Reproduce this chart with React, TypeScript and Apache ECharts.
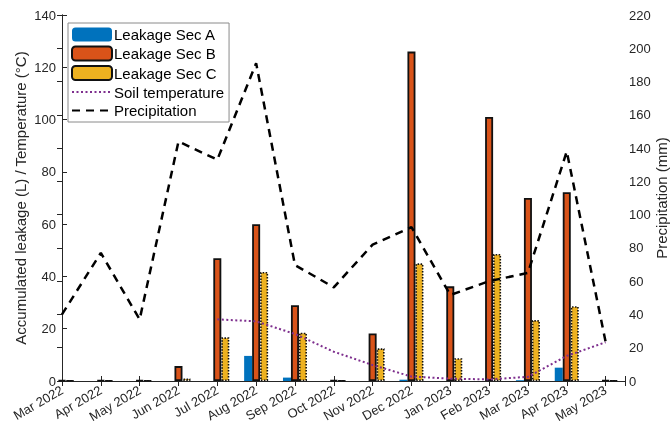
import React, { useEffect, useRef } from "react";
import * as echarts from "echarts";

const months = [
  "Mar 2022", "Apr 2022", "May 2022", "Jun 2022", "Jul 2022", "Aug 2022", "Sep 2022",
  "Oct 2022", "Nov 2022", "Dec 2022", "Jan 2023", "Feb 2023", "Mar 2023", "Apr 2023", "May 2023",
];
const secA = [0, 0, 0, 0, 0, 9.6, 1.3, 0, 0, 0.5, 0, 0, 0.3, 5.1, 0];
const secB = [0.3, 0.3, 0.3, 5.7, 47, 60, 29, 0.3, 18.2, 126, 36.2, 101, 70, 72.2, 0.3];
const secC = [0.2, 0.2, 0.2, 1.0, 16.7, 41.7, 18.5, 0.2, 12.5, 45, 8.7, 48.6, 23.3, 28.6, 0.2];
const soilTemp = [null, null, null, null, 23.6, 22.8, 18, 11.2, 6.1, 1.7, 0.9, 0.6, 1.6, 9.6, 14.8];
const precip = [40, 77, 37, 144, 133, 191, 69.7, 56.3, 82, 92.5, 51.7, 60, 65, 138, 23.6];
const leftTicks = { min: 0, max: 140, interval: 20 };
const rightTicks = { min: 0, max: 220, interval: 20 };

const FONT = "Liberation Sans, Arial, Helvetica, sans-serif";
const INK = "#262626";

export default function App() {
  const ref = useRef<HTMLDivElement>(null);
  useEffect(() => {
    if (!ref.current) return;
    const chart = echarts.init(ref.current, undefined, { renderer: "svg" });
    const pairs = (arr: (number | null)[]) => arr.map((v, i) => [i, v]);
    const xCommon = {
      type: "value",
      min: 0,
      max: 14.5,
      interval: 1,
      splitLine: { show: false },
      axisLine: { show: true, lineStyle: { color: INK, width: 1 } },
      axisTick: { show: true, inside: true, length: 5, lineStyle: { color: INK } },
    };
    chart.setOption({
      animation: false,
      textStyle: { fontFamily: FONT },
      grid: { left: 62, right: 46, top: 15, bottom: 50, containLabel: false, outerBoundsMode: "none" },
      legend: {
        show: true,
        orient: "vertical",
        left: 68,
        top: 23,
        itemWidth: 40,
        itemHeight: 14,
        itemGap: 3.5,
        padding: [4, 5, 4, 3],
        borderColor: "#8a8a8a",
        borderWidth: 1,
        backgroundColor: "#fff",
        textStyle: { fontFamily: FONT, fontSize: 15, color: "#000", padding: [0, 0, 0, -3] },
        data: [
          { name: "Leakage Sec A" },
          { name: "Leakage Sec B" },
          { name: "Leakage Sec C" },
          { name: "Soil temperature", itemStyle: { opacity: 0 } },
          { name: "Precipitation", itemStyle: { opacity: 0 } },
        ],
      },
      xAxis: [
        {
          ...xCommon,
          position: "bottom",
          axisLabel: {
            show: true,
            rotate: 30,
            margin: 8,
            fontSize: 13,
            color: INK,
            fontFamily: FONT,
            formatter: (v: number) => (Number.isInteger(v) && months[v] ? months[v] : ""),
          },
        },
        {
          ...xCommon,
          position: "top",
          axisLabel: { show: false },
        },
      ],
      yAxis: [
        {
          type: "value",
          ...leftTicks,
          position: "left",
          name: "Accumulated leakage (L) / Temperature (°C)",
          nameLocation: "middle",
          nameRotate: 90,
          nameGap: 34,
          nameMoveOverlap: false,
          nameTextStyle: { fontSize: 15, color: INK, fontFamily: FONT },
          splitLine: { show: false },
          axisLine: { show: true, lineStyle: { color: INK } },
          axisTick: { show: true, inside: true, length: 5, lineStyle: { color: INK } },
          axisLabel: { fontSize: 13, color: INK, margin: 6, fontFamily: FONT },
        },
        {
          type: "value",
          ...rightTicks,
          position: "right",
          name: "Precipitation (mm)",
          nameLocation: "middle",
          nameRotate: 90,
          nameGap: 29,
          nameMoveOverlap: false,
          nameTextStyle: { fontSize: 15, color: INK, fontFamily: FONT },
          splitLine: { show: false },
          axisLine: { show: true, lineStyle: { color: INK } },
          axisTick: { show: true, inside: true, length: 5, lineStyle: { color: INK } },
          axisLabel: { fontSize: 13, color: INK, margin: 4, fontFamily: FONT },
        },
      ],
      series: [
        {
          name: "Leakage Sec A",
          type: "bar",
          xAxisIndex: 0,
          yAxisIndex: 0,
          barWidth: 8,
          barGap: "0%",
          clip: true,
          data: pairs(secA),
          itemStyle: { color: "#0072BD", borderColor: "#0072BD", borderWidth: 0 },
        },
        {
          name: "Leakage Sec B",
          type: "bar",
          xAxisIndex: 0,
          yAxisIndex: 0,
          barWidth: 8,
          barGap: "0%",
          clip: true,
          data: pairs(secB),
          itemStyle: { color: "#D95319", borderColor: "#111", borderWidth: 1.8 },
        },
        {
          name: "Leakage Sec C",
          type: "bar",
          xAxisIndex: 0,
          yAxisIndex: 0,
          barWidth: 8,
          barGap: "0%",
          clip: true,
          data: pairs(secC),
          itemStyle: { color: "#EDB120", borderColor: "#111", borderWidth: 1.6, borderType: [1.5, 1.5] },
        },
        {
          name: "Soil temperature",
          type: "line",
          xAxisIndex: 0,
          yAxisIndex: 0,
          symbol: "none",
          data: pairs(soilTemp),
          lineStyle: { color: "#7E2F8E", width: 2, type: [2, 2.5] },
          itemStyle: { color: "#7E2F8E" },
        },
        {
          name: "Precipitation",
          type: "line",
          xAxisIndex: 0,
          yAxisIndex: 1,
          symbol: "none",
          data: pairs(precip),
          lineStyle: { color: "#000", width: 2.5, type: [8, 6] },
          itemStyle: { color: "#000" },
        },
      ],
    });
    return () => chart.dispose();
  }, []);
  return (
    <div
      ref={ref}
      style={{ position: "fixed", left: 0, top: 0, width: 671, height: 431 }}
    />
  );
}
